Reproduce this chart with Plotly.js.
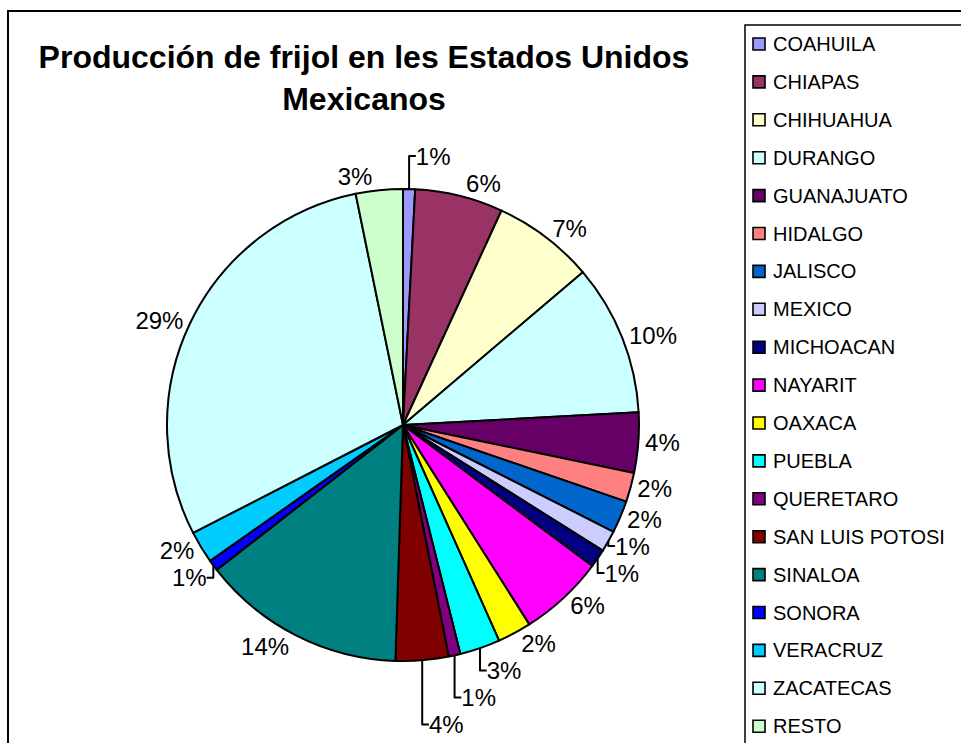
<!DOCTYPE html>
<html>
<head>
<meta charset="utf-8">
<script src="https://cdn.plot.ly/plotly-3.0.1.min.js"></script>
<style>html,body{margin:0;padding:0;background:#fff;}#chart{width:961px;height:743px;}</style>
</head>
<body>
<div id="chart"></div>
<script>
const states = ["COAHUILA","CHIAPAS","CHIHUAHUA","DURANGO","GUANAJUATO","HIDALGO","JALISCO","MEXICO","MICHOACAN","NAYARIT","OAXACA","PUEBLA","QUERETARO","SAN LUIS POTOSI","SINALOA","SONORA","VERACRUZ","ZACATECAS","RESTO"];
const shares = [0.82, 6.0, 6.9, 10.3, 4.1, 2.0, 2.2, 1.45, 1.25, 5.8, 2.3, 2.75, 0.8, 3.6, 13.9, 0.75, 2.2, 29.2, 3.2];
const colors = ["#9999FF","#993366","#FFFFCC","#CCFFFF","#660066","#FF8080","#0066CC","#CCCCFF","#000080","#FF00FF","#FFFF00","#00FFFF","#800080","#800000","#008080","#0000FF","#00CCFF","#CCFFFF","#CCFFCC"];
const titleText = "Producción de frijol en les Estados Unidos<br>Mexicanos";

const W = 961, H = 743;
const FONT = "Liberation Sans, Arial, sans-serif";

const shapes = [];
const annotations = [];
// outer frame
shapes.push({type:"rect", xref:"paper", yref:"paper", x0:8/W, x1:1.05, y0:-0.05, y1:1-11/H, line:{color:"#000", width:2}, fillcolor:"rgba(0,0,0,0)", layer:"above"});
// legend box
shapes.push({type:"rect", xref:"paper", yref:"paper", x0:745/W, x1:1.05, y0:-0.05, y1:1-25/H, line:{color:"#000", width:1.5}, fillcolor:"rgba(0,0,0,0)"});
states.forEach((s, i) => {
  const yc = 44 + 37.9 * i;
  shapes.push({type:"rect", xref:"paper", yref:"paper", x0:753/W, x1:765/W, y0:1-(yc+6)/H, y1:1-(yc-6)/H, line:{color:"#000", width:1.6}, fillcolor:colors[i]});
  annotations.push({xref:"paper", yref:"paper", x:771/W, y:1-yc/H, xanchor:"left", yanchor:"middle", text:s, showarrow:false, font:{family:FONT, size:20, color:"#000"}});
});

const trace = {
  type:"pie",
  labels: states,
  values: shares,
  sort:false,
  direction:"clockwise",
  rotation:0,
  marker:{colors:colors, line:{color:"#000", width:2}},
  textposition:"outside",
  texttemplate:"%{percent:.0%}",
  outsidetextfont:{family:FONT, size:24, color:"#000"},
  domain:{x:[167/W, 639/W], y:[82/H, 554/H]},
  showlegend:false,
  hoverinfo:"label+percent"
};

const layout = {
  width:W, height:H,
  margin:{l:0, r:0, t:0, b:0},
  paper_bgcolor:"#fff",
  title:{text:titleText, x:364/W, xref:"paper", xanchor:"center", yref:"container", y:1-68/H, yanchor:"middle", font:{family:FONT, size:32, color:"#000", weight:"bold"}},
  showlegend:false,
  shapes:shapes,
  annotations:annotations
};

Plotly.newPlot("chart", [trace], layout, {displayModeBar:false, staticPlot:true});
</script>
</body>
</html>
